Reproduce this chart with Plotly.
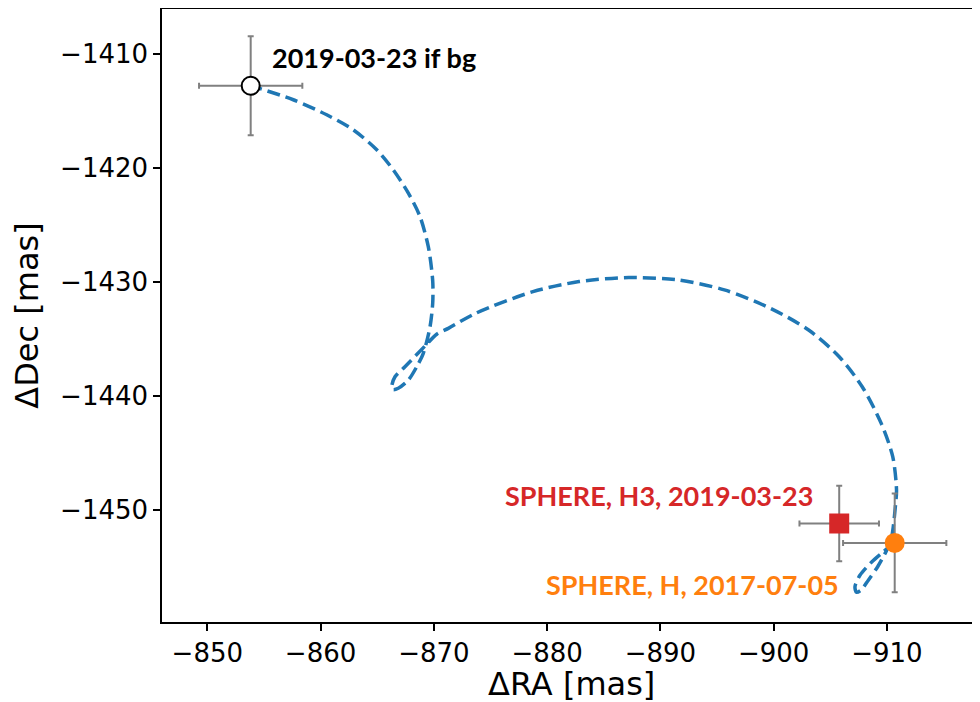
import plotly.graph_objects as go

# Background-star track (ΔRA, ΔDec in mas), from 2017-07-05 to 2019-03-23
track_ra = [-910.65, -909.68, -908.66, -907.62, -907.18, -907.31, -907.71, -908.36, -909.21,
            -909.98, -910.40, -910.56, -910.76, -910.85, -910.52, -909.50, -907.82, -905.79,
            -903.09, -899.71, -895.65, -891.60, -887.21, -882.82, -878.75, -873.70, -871.28,
            -870.28, -869.22, -867.45, -866.57, -866.28, -866.39, -866.86, -867.75, -868.49,
            -869.07, -869.66, -869.90, -869.91, -869.81, -869.51, -868.78, -867.75, -866.42,
            -864.96, -862.89, -860.54, -857.59, -853.83]
track_dec = [-1452.84, -1453.67, -1454.55, -1455.72, -1456.74, -1457.21, -1457.03, -1456.15, -1454.93,
             -1453.52, -1452.47, -1451.48, -1449.57, -1448.25, -1445.33, -1442.40, -1439.18, -1436.55,
             -1434.21, -1432.30, -1430.69, -1429.82, -1429.61, -1429.96, -1430.84, -1432.74, -1434.06,
             -1434.56, -1435.61, -1437.43, -1438.31, -1439.18, -1439.43, -1439.32, -1438.60, -1437.43,
             -1436.25, -1433.94, -1431.86, -1430.08, -1428.94, -1426.89, -1424.26, -1422.20, -1420.16,
             -1418.40, -1416.65, -1415.33, -1414.01, -1412.78]

# Measurements
bg_ra, bg_dec, bg_era, bg_edec = [-853.83], [-1412.78], [4.56], [4.35]
h3_ra, h3_dec, h3_era, h3_edec = [-905.79], [-1451.18], [3.51], [3.31]
h_ra, h_dec, h_era, h_edec = [-910.69], [-1452.88], [4.56], [4.34]

labels = ["2019-03-23 if bg", "SPHERE, H3, 2019-03-23", "SPHERE, H, 2017-07-05"]
label_x = [-855.54, -903.69, -905.96]
label_y = [-1410.3, -1448.69, -1456.51]

x_ticks = [-850, -860, -870, -880, -890, -900, -910]
y_ticks = [-1410, -1420, -1430, -1440, -1450]
x_title = "\u0394RA [mas]"
y_title = "\u0394Dec [mas]"

GREY = "#808080"
fig = go.Figure()

fig.add_trace(go.Scatter(
    x=track_ra, y=track_dec, mode="lines",
    line=dict(color="#1f77b4", width=3.5, dash="13px,6px", shape="spline", smoothing=0.8),
    showlegend=False, hoverinfo="skip"))

def point(xs, ys, ex, ey, marker):
    fig.add_trace(go.Scatter(
        x=xs, y=ys, mode="markers",
        error_x=dict(type="data", array=ex, color=GREY, thickness=2, width=3),
        error_y=dict(type="data", array=ey, color=GREY, thickness=2, width=3),
        marker=marker, showlegend=False))

point(bg_ra, bg_dec, bg_era, bg_edec,
      dict(symbol="circle", size=18, color="white", line=dict(color="black", width=2)))
point(h3_ra, h3_dec, h3_era, h3_edec,
      dict(symbol="square", size=20, color="#d62728", line=dict(width=0)))
point(h_ra, h_dec, h_era, h_edec,
      dict(symbol="circle", size=20, color="#ff7f0e", line=dict(width=0)))

colors = ["black", "#d62728", "#ff7f0e"]
anchors = ["left", "right", "right"]
for t, xx, yy, c, a in zip(labels, label_x, label_y, colors, anchors):
    fig.add_annotation(x=xx, y=yy, text="<b>" + t + "</b>", showarrow=False,
                       xanchor=a, yanchor="middle",
                       font=dict(family="Lato", size=27, color=c))

# x-axis title placed below the tick labels
fig.add_annotation(x=0.5, y=0, xref="paper", yref="paper", text=x_title,
                   showarrow=False, xanchor="center", yanchor="top", yshift=-41,
                   font=dict(family="DejaVu Sans", size=32, color="black"))

axis_common = dict(
    showgrid=False, zeroline=False, showline=True, linecolor="black", linewidth=1.5,
    ticks="outside", ticklen=7, tickwidth=1.5, tickcolor="black",
    tickfont=dict(family="DejaVu Sans", size=26, color="black"),
)
fig.update_xaxes(**axis_common, range=[-846.0, -918.22], tickvals=x_ticks,
                 ticktext=["\u2212" + str(abs(v)) for v in x_ticks], mirror=True)
fig.update_yaxes(**axis_common, range=[-1459.82, -1406.05], tickvals=y_ticks,
                 ticktext=["\u2212" + str(abs(v)) for v in y_ticks],
                 title=dict(text=y_title, standoff=14,
                            font=dict(family="DejaVu Sans", size=32, color="black")))

# the page body adds an 8 px offset, so the figure is sized to fill the window
fig.update_layout(
    width=972, height=694,
    margin=dict(l=154, r=0, t=1, b=80, autoexpand=False),
    plot_bgcolor="white", paper_bgcolor="white",
)

fig.write_html("out.html")
